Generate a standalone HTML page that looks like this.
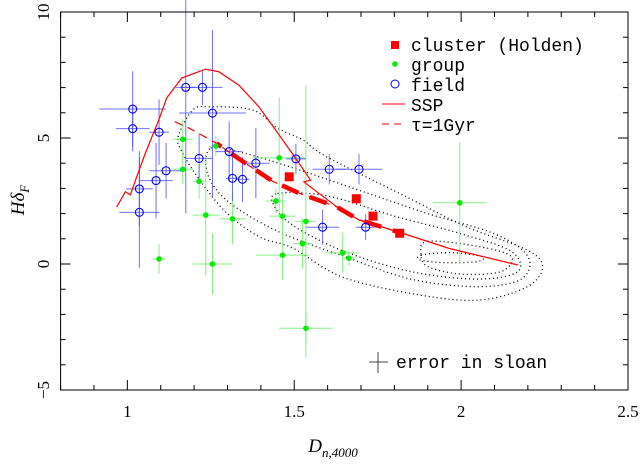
<!DOCTYPE html>
<html><head><meta charset="utf-8"><style>
body{margin:0;background:#fff}
svg{display:block}
text{font-family:"Liberation Serif",serif;fill:#000}
.mono{font-family:"Liberation Mono",monospace}
</style></head><body>
<svg id="c" width="641" height="466" viewBox="0 0 641 466"></svg>
<script>
const xTicks=[1,1.5,2,2.5];
const xTickLabels=["1","1.5","2","2.5"];
const yTicks=[-5,0,5,10];
const yTickLabels=["\u22125","0","5","10"];
const fieldX=[1.016,1.016,1.095,1.116,1.086,1.036,1.036,1.175,1.225,1.255,1.215,1.305,1.315,1.345,1.385,1.505,1.605,1.694,1.585,1.714];
const fieldY=[6.15,5.37,5.23,3.70,3.31,2.98,2.05,7.01,7.01,5.99,4.19,4.46,3.40,3.36,4.00,4.17,3.76,3.76,1.46,1.46];
const fieldXe=[0.1,0.05,0.03,0.05,0.05,0.04,0.06,0.03,0.06,0.1,0.04,0.04,0.02,0.02,0.04,0.03,0.05,0.07,0.05,0.03];
const fieldYe=[1.5,0.9,1.3,1.1,1.5,1.5,2.2,5.0,0.7,3.3,1.0,1.2,0.9,0.9,1.4,0.6,0.6,0.6,0.7,0.5];
const groupX=[1.166,1.166,1.215,1.265,1.235,1.315,1.095,1.255,1.455,1.445,1.465,1.535,1.525,1.465,1.535,1.645,1.664,1.996];
const groupY=[4.95,3.76,3.28,4.68,1.94,1.79,0.20,0.00,4.21,2.50,1.90,1.69,0.81,0.35,-2.55,0.44,0.23,2.43];
const groupXe=[0.03,0.03,0.02,0.02,0.04,0.04,0.02,0.06,0.08,0.03,0.04,0.03,0.03,0.08,0.08,0.05,0.02,0.08];
const groupYe=[0.8,0.6,0.7,0.4,2.4,1.0,0.6,1.2,2.4,0.5,0.9,5.4,1.0,1.0,0.6,0.8,0.3,2.4];
const clusterX=[1.485,1.686,1.736,1.816];
const clusterY=[3.46,2.59,1.90,1.22];
const sspX=[0.968,0.994,1.009,1.028,1.054,1.094,1.118,1.163,1.234,1.274,1.334,1.394,1.444,1.494,1.549,1.529,1.574,1.634,1.694,1.824,1.964,2.170];
const sspY=[2.26,2.87,2.74,3.46,4.40,5.71,6.59,7.38,7.73,7.63,7.10,6.24,5.32,4.39,3.33,3.26,2.80,2.21,1.75,1.22,0.62,-0.04];
const tauX=[1.142,1.187,1.267,1.347,1.437,1.517,1.627,1.694,1.824];
const tauY=[5.65,5.38,4.79,4.06,3.27,2.80,2.27,1.75,1.22];
const contour1X=[1.152,1.196,1.247,1.376,1.448,1.526,1.598,1.855,2.017,2.197,2.244,2.197,2.056,1.876,1.645,1.496,1.397,1.298,1.217,1.166];
const contour1Y=[5.04,6.11,6.24,6.11,5.40,4.92,4.25,2.54,1.47,0.56,-0.12,-0.91,-1.43,-1.23,-0.52,0.63,1.07,2.02,3.33,4.40];
const contour2X=[1.25,1.35,1.5,1.7,1.9,2.1,2.2,2.18,2.05,1.85,1.65,1.45,1.3,1.24];
const contour2Y=[4.6,4.4,3.8,2.9,2.0,1.2,0.3,-0.6,-0.9,-0.6,0.3,1.3,2.5,3.6];
const contour3X=[1.45,1.6,1.8,2.0,2.15,2.17,2.05,1.85,1.65,1.5,1.44];
const contour3Y=[2.8,2.7,1.9,1.2,0.5,-0.3,-0.6,-0.3,0.5,1.5,2.3];
const contour4X=[1.9,2.05,2.15,2.12,2.0,1.9,1.88];
const contour4Y=[0.9,0.7,0.3,-0.3,-0.4,-0.1,0.4];
const contour5X=[1.88,1.97,2.06,2.05,1.96,1.88];
const contour5Y=[0.35,0.45,0.3,0.1,0.05,0.15];

const L=60.6,R=628,T=12,B=390,xmin=0.8,xmax=2.5,ymin=-5,ymax=10;
const sx=v=>L+(v-xmin)/(xmax-xmin)*(R-L);
const sy=v=>B-(v-ymin)/(ymax-ymin)*(B-T);
const svg=document.getElementById('c');const NS='http://www.w3.org/2000/svg';
function mk(t,a,p){const e=document.createElementNS(NS,t);for(const k in a)e.setAttribute(k,a[k]);(p||svg).appendChild(e);return e;}

// contours
const cg=mk('g',{});


[[contour1X,contour1Y],[contour2X,contour2Y],[contour3X,contour3Y],[contour4X,contour4Y],[contour5X,contour5Y]].forEach((c,i)=>{
 const pts=c[0].map((x,j)=>[sx(x),sy(c[1][j])]);
 let d='';const n=pts.length;
 for(let j=0;j<n;j++){const p0=pts[(j-1+n)%n],p1=pts[j],p2=pts[(j+1)%n],p3=pts[(j+2)%n];
  if(j==0)d+='M'+p1[0]+','+p1[1];
  d+=' C'+(p1[0]+(p2[0]-p0[0])/6)+','+(p1[1]+(p2[1]-p0[1])/6)+' '+(p2[0]-(p3[0]-p1[0])/6)+','+(p2[1]-(p3[1]-p1[1])/6)+' '+p2[0]+','+p2[1];}
 const e=mk('path',{d:d,fill:'none',stroke:'#000','stroke-width':1.3,'stroke-dasharray':'1 3'},cg);
 
 
});

// error bars + points
function errs(X,Y,XE,YE,col,name){
 const g=mk('g',{});
 
 
 X.forEach((x,i)=>{
  mk('line',{x1:sx(x-XE[i]),x2:sx(x+XE[i]),y1:sy(Y[i]),y2:sy(Y[i]),stroke:col,'stroke-width':1,'stroke-opacity':0.8},g);
  mk('line',{x1:sx(x),x2:sx(x),y1:sy(Y[i]-YE[i]),y2:sy(Y[i]+YE[i]),stroke:col,'stroke-width':1,'stroke-opacity':0.8},g);
 });
}
errs(groupX,groupY,groupXe,groupYe,'#66ee66','group');
errs(fieldX,fieldY,fieldXe,fieldYe,'#4b4bff','field');

function line(X,Y,attrs,name){let d=X.map((x,i)=>(i?'L':'M')+sx(x)+','+sy(Y[i])).join(' ');
 const e=mk('path',Object.assign({d:d,fill:'none'},attrs));
 
 }
line(sspX,sspY,{stroke:'#f00','stroke-width':1.2},'ssp-curve');
line(tauX,tauY,{stroke:'#f00','stroke-width':1.2,'stroke-dasharray':'8 6'},'tau-curve');
line(tauX.slice(2),tauY.slice(2),{stroke:'#f00','stroke-width':4.5,'stroke-dasharray':'18 12','stroke-dashoffset':'-18'},'tau-thick');

groupX.forEach((x,i)=>{const e=mk('circle',{cx:sx(x),cy:sy(groupY[i]),r:2.8,fill:'#00ee00'});
 
 });
fieldX.forEach((x,i)=>{const e=mk('circle',{cx:sx(x),cy:sy(fieldY[i]),r:4,fill:'none',stroke:'#00f','stroke-width':1.1});
 
 });
clusterX.forEach((x,i)=>{const e=mk('rect',{x:sx(x)-4.5,y:sy(clusterY[i])-4.5,width:9,height:9,fill:'#f00'});
 
 });

// frame
const fr=mk('rect',{x:L,y:T,width:R-L,height:B-T,fill:'none',stroke:'#000','stroke-width':1});


// ticks
for(let v=0.8;v<=2.5001;v+=0.1){const big=Math.abs(v*2-Math.round(v*2))<1e-6;const l=big?10:5;
 mk('line',{x1:sx(v),x2:sx(v),y1:B,y2:B-l,stroke:'#000'});mk('line',{x1:sx(v),x2:sx(v),y1:T,y2:T+l,stroke:'#000'});}
for(let v=-5;v<=10.001;v+=1){const big=Math.abs(v%5)<1e-6;const l=big?10:5;
 mk('line',{x1:L,x2:L+l,y1:sy(v),y2:sy(v),stroke:'#000'});mk('line',{x1:R,x2:R-l,y1:sy(v),y2:sy(v),stroke:'#000'});}
xTicks.forEach((v,i)=>{const t=mk('text',{x:sx(v),y:417,'text-anchor':'middle','font-size':17});t.textContent=xTickLabels[i];
 
 });
yTicks.forEach((v,i)=>{const t=mk('text',{x:49,y:sy(v),'text-anchor':'middle','font-size':17,transform:'rotate(-90 49 '+sy(v)+')'});t.textContent=yTickLabels[i];
 
 });
</script>
<svg width="641" height="466" style="position:absolute;left:0;top:0">
<text x="333" y="452" text-anchor="middle" font-size="19" font-style="italic">D<tspan font-size="13" dy="5">n,4000</tspan></text>
<text x="24" y="200" text-anchor="middle" font-size="19" font-style="italic" transform="rotate(-90 24 200)">Hδ<tspan font-size="13" dy="5">F</tspan></text>
<g>
<rect x="391" y="41" width="8" height="8" fill="#f00"/>
<text class="mono" x="411" y="51" font-size="18">cluster (Holden)</text>
<circle cx="395" cy="64" r="2.8" fill="#00ee00"/>
<text class="mono" x="411" y="71" font-size="18">group</text>
<circle cx="395" cy="84" r="4" fill="none" stroke="#00f"/>
<text class="mono" x="411" y="91" font-size="18">field</text>
<line x1="382" x2="405" y1="104" y2="104" stroke="#f00"/>
<text class="mono" x="411" y="111" font-size="18">SSP</text>
<line x1="382" x2="405" y1="124" y2="124" stroke="#f00" stroke-dasharray="7 5"/>
<text class="mono" x="411" y="131" font-size="18">τ=1Gyr</text>
</g>
<g>
<line x1="369" x2="388" y1="362" y2="362" stroke="#444"/>
<line x1="378" x2="378" y1="352" y2="373" stroke="#444"/>
<text class="mono" x="396" y="368" font-size="18">error in sloan</text>
</g>
</svg>
</body></html>
